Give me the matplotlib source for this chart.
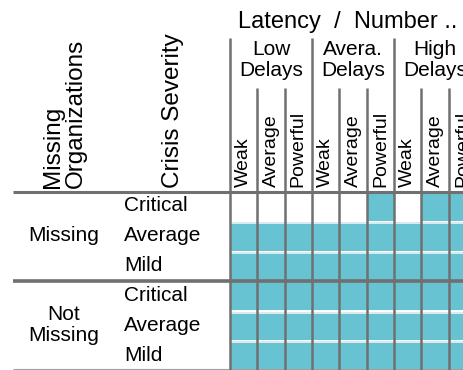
import matplotlib
matplotlib.use("Agg")
import matplotlib.pyplot as plt
import numpy as np

plt.rcParams['font.family'] = ['Liberation Sans', 'DejaVu Sans']

# ---- data ----
header_title = "Latency  /  Number .."
latency_groups = ["Low\nDelays", "Avera.\nDelays", "High\nDelays"]
number_levels = ["Weak", "Average", "Powerful"]
missing_groups = ["Missing", "Not\nMissing"]
severity_levels = ["Critical", "Average", "Mild"]
row_header_1 = "Missing\nOrganizations"
row_header_2 = "Crisis Severity"
# 1 = mark present in the cell, 0 = empty (rows: Missing/Critical..Mild, Not Missing/Critical..Mild)
present = [
    [0, 0, 0, 0, 0, 1, 0, 1, 1],
    [1, 1, 1, 1, 1, 1, 1, 1, 1],
    [1, 1, 1, 1, 1, 1, 1, 1, 1],
    [1, 1, 1, 1, 1, 1, 1, 1, 1],
    [1, 1, 1, 1, 1, 1, 1, 1, 1],
    [1, 1, 1, 1, 1, 1, 1, 1, 1],
]

# ---- layout (pixels) ----
W, H = 464, 370
grid_left, grid_top, grid_bottom = 230, 191, 370
col_w = 27.35
n_rows = len(present)
n_cols = len(present[0])
row_h = (grid_bottom - grid_top) / n_rows

TEAL = "#67C3D1"
LIGHT = "#D6ECF0"
LINE = "#707070"

fig = plt.figure(figsize=(W / 100, H / 100), dpi=100)
fig.patch.set_facecolor("white")

# data axes
ax = fig.add_axes([grid_left / W, 0, (W - grid_left) / W, (grid_bottom - grid_top) / H])
ax.set_xlim(0, (W - grid_left) / col_w)
ax.set_ylim(n_rows, 0)
ax.axis("off")

pres = np.array(present)
per_pane = len(severity_levels)
for r in range(n_rows):
    first_in_pane = (r % per_pane == 0)
    for c in range(n_cols):
        if not pres[r, c] and first_in_pane:
            continue
        if first_in_pane:
            ax.bar(c + 0.5, 1.0 - 0.02, bottom=r + 0.02, width=1.0, color=TEAL, linewidth=0)
        else:
            ax.bar(c + 0.5, 1.0 - 0.04, bottom=r + 0.04, width=1.0, color=LIGHT, linewidth=0)
            if pres[r, c]:
                ax.bar(c + 0.5, 1.0 - 0.11, bottom=r + 0.11, width=1.0, color=TEAL, linewidth=0)

# overlay axes in pixel coordinates for headers and rules
ov = fig.add_axes([0, 0, 1, 1], zorder=5)
ov.set_xlim(0, W)
ov.set_ylim(H, 0)
ov.axis("off")
ov.patch.set_alpha(0)

# horizontal rules
ov.plot([13, W], [grid_top + 1, grid_top + 1], color=LINE, lw=2.2, solid_capstyle="butt")
sep_y = grid_top + row_h * per_pane
ov.plot([13, W], [sep_y, sep_y], color=LINE, lw=2.6, solid_capstyle="butt")
ov.plot([13, W], [H - 1, H - 1], color="#A0A0A0", lw=0.8, solid_capstyle="butt")

# vertical rules
for c in range(n_cols + 1):
    x = grid_left + c * col_w
    if x > W:
        break
    top = 38 if c % len(number_levels) == 0 else 88
    ov.plot([x, x], [top, H], color=LINE, lw=1.8, solid_capstyle="butt")

# column headers
ov.text(238, 22, header_title, fontsize=17, ha="left", va="center")
for g, name in enumerate(latency_groups):
    xc = grid_left + (g * len(number_levels) + len(number_levels) / 2) * col_w
    ov.text(xc, 60, name, fontsize=15, ha="center", va="center", linespacing=1.15)
    for k, lvl in enumerate(number_levels):
        xk = grid_left + (g * len(number_levels) + k + 0.5) * col_w
        ov.text(xk, 187, lvl, fontsize=14, rotation=90, ha="center", va="bottom")

# row headers
ov.text(64, 188, row_header_1, fontsize=17.5, rotation=90, ha="center", va="bottom",
        multialignment="left", linespacing=1.05)
ov.text(173, 188, row_header_2, fontsize=17.5, rotation=90, ha="center", va="bottom")

for p, name in enumerate(missing_groups):
    yc = grid_top + (p * per_pane + per_pane / 2) * row_h
    ov.text(64, yc, name, fontsize=15, ha="center", va="center", linespacing=1.15)
    for k, lvl in enumerate(severity_levels):
        yk = grid_top + (p * per_pane + k + 0.5) * row_h
        ov.text(124, yk, lvl, fontsize=15, ha="left", va="center")

fig.savefig("out.png", dpi=100)
